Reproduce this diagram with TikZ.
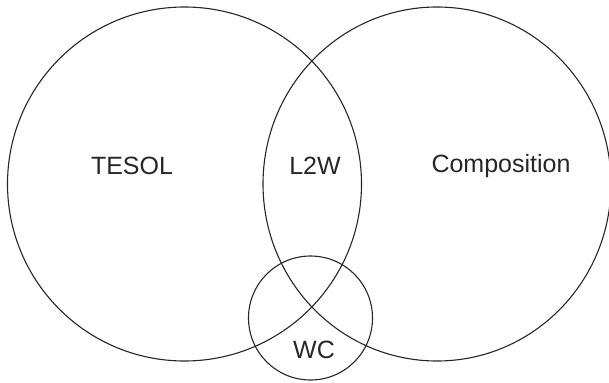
\documentclass[tikz,border=0pt]{standalone}
\usepackage{fontspec}
\setmainfont{Liberation Sans}
\begin{document}
\begin{tikzpicture}[x=1pt,y=-1pt,
  setline/.style={draw=black!85,line width=1.1pt},
  lbl/.style={font=\fontsize{25}{28}\selectfont,text=black!85,inner sep=0pt}]
\useasboundingbox (0,0) rectangle (609,382);
\clip (0,0) rectangle (609,382);
\draw[setline] (184.5,184) circle[radius=177] coordinate (tesol);
\draw[setline] (437,184) ellipse[x radius=174,y radius=177];
\draw[setline] (310.5,318) circle[radius=62];
\node[lbl] (t) at (132,166) {TESOL};
\node[lbl] (l) at (315,166) {L2W};
\node[lbl] (c) at (501,166) {Composition};
\node[lbl] (w) at (314,350) {WC};
\end{tikzpicture}
\end{document}
